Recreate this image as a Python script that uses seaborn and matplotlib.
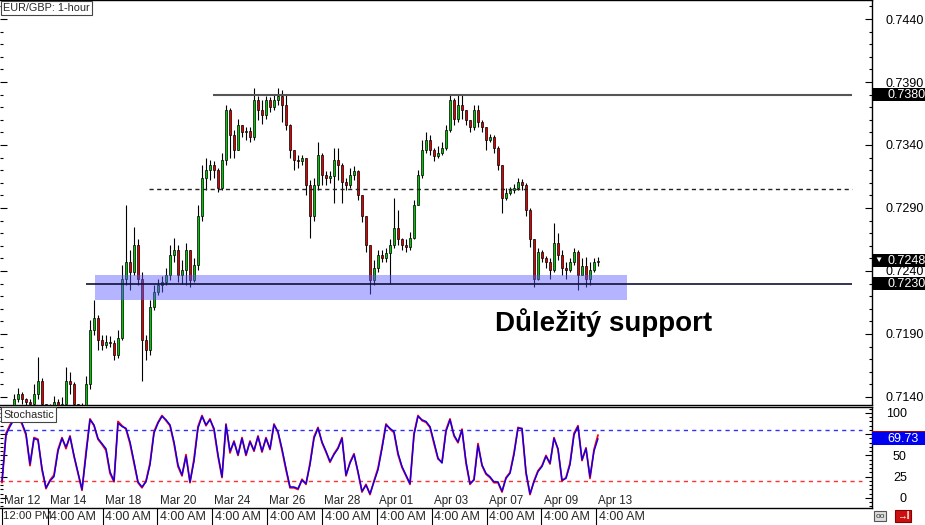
import matplotlib
matplotlib.use('Agg')
import matplotlib.pyplot as plt
import matplotlib.transforms as mtransforms
from matplotlib.patches import Rectangle
from matplotlib.ticker import MultipleLocator, FixedLocator
import seaborn as sns
import numpy as np
import pandas as pd

# EUR/GBP bars (one bar every 3.5 h, first bar Mar 12 12:00 PM)
BAR_HOURS = 3.5
first_open = 0.7124
closes = [
    0.7126, 0.7128, 0.7130, 0.7138, 0.7142, 0.7138, 0.7136, 0.7134, 0.7142, 0.7153,
    0.7134, 0.7128, 0.7130, 0.7136, 0.7131, 0.7134, 0.7153, 0.7150, 0.7134, 0.7128,
    0.7130, 0.7150, 0.7193, 0.7203, 0.7185, 0.7181, 0.7184, 0.7183, 0.7173, 0.7187,
    0.7234, 0.7247, 0.7239, 0.7261, 0.7234, 0.7185, 0.7177, 0.7211, 0.7223, 0.7229,
    0.7231, 0.7237, 0.7253, 0.7257, 0.7237, 0.7241, 0.7257, 0.7233, 0.7245, 0.7284,
    0.7314, 0.7320, 0.7324, 0.7320, 0.7306, 0.7328, 0.7368, 0.7348, 0.7336, 0.7356,
    0.7350, 0.7351, 0.7346, 0.7376, 0.7368, 0.7364, 0.7376, 0.7370, 0.7376, 0.7379,
    0.7372, 0.7356, 0.7336, 0.7328, 0.7327, 0.7330, 0.7308, 0.7284, 0.7308, 0.7332,
    0.7316, 0.7314, 0.7315, 0.7328, 0.7324, 0.7311, 0.7308, 0.7316, 0.7319, 0.7300,
    0.7284, 0.7261, 0.7233, 0.7242, 0.7253, 0.7250, 0.7254, 0.7261, 0.7274, 0.7265,
    0.7261, 0.7259, 0.7266, 0.7292, 0.7316, 0.7336, 0.7344, 0.7336, 0.7331, 0.7334,
    0.7338, 0.7352, 0.7376, 0.7361, 0.7372, 0.7368, 0.7360, 0.7354, 0.7368, 0.7358,
    0.7354, 0.7344, 0.7346, 0.7338, 0.7324, 0.7298, 0.7302, 0.7304, 0.7306, 0.7311,
    0.7308, 0.7288, 0.7265, 0.7234, 0.7255, 0.7250, 0.7247, 0.7241, 0.7262, 0.7253,
    0.7242, 0.7241, 0.7247, 0.7255, 0.7237, 0.7244, 0.7234, 0.7241, 0.7247, 0.7248,
]
highs = [
    0.7130, 0.7131, 0.7133, 0.7142, 0.7147, 0.7144, 0.7139, 0.7138, 0.7150, 0.7172,
    0.7155, 0.7134, 0.7134, 0.7141, 0.7138, 0.7140, 0.7164, 0.7160, 0.7152, 0.7134,
    0.7135, 0.7157, 0.7201, 0.7217, 0.7205, 0.7189, 0.7189, 0.7188, 0.7185, 0.7193,
    0.7245, 0.7292, 0.7257, 0.7275, 0.7265, 0.7239, 0.7189, 0.7217, 0.7229, 0.7234,
    0.7236, 0.7242, 0.7261, 0.7266, 0.7261, 0.7249, 0.7262, 0.7257, 0.7250, 0.7292,
    0.7324, 0.7330, 0.7328, 0.7327, 0.7322, 0.7334, 0.7372, 0.7369, 0.7352, 0.7361,
    0.7356, 0.7354, 0.7354, 0.7385, 0.7379, 0.7376, 0.7379, 0.7378, 0.7380, 0.7385,
    0.7384, 0.7380, 0.7357, 0.7336, 0.7332, 0.7332, 0.7330, 0.7312, 0.7314, 0.7342,
    0.7334, 0.7319, 0.7319, 0.7338, 0.7338, 0.7326, 0.7314, 0.7322, 0.7323, 0.7320,
    0.7300, 0.7284, 0.7261, 0.7249, 0.7257, 0.7257, 0.7258, 0.7265, 0.7298, 0.7288,
    0.7266, 0.7265, 0.7271, 0.7296, 0.7320, 0.7344, 0.7350, 0.7348, 0.7338, 0.7339,
    0.7342, 0.7356, 0.7380, 0.7377, 0.7380, 0.7380, 0.7368, 0.7360, 0.7372, 0.7372,
    0.7360, 0.7354, 0.7349, 0.7348, 0.7339, 0.7324, 0.7306, 0.7307, 0.7309, 0.7314,
    0.7313, 0.7310, 0.7290, 0.7265, 0.7258, 0.7257, 0.7252, 0.7250, 0.7278, 0.7270,
    0.7257, 0.7247, 0.7250, 0.7258, 0.7257, 0.7250, 0.7251, 0.7247, 0.7250, 0.7251,
]
lows = [
    0.7122, 0.7123, 0.7126, 0.7130, 0.7136, 0.7134, 0.7133, 0.7130, 0.7131, 0.7138,
    0.7130, 0.7125, 0.7126, 0.7128, 0.7126, 0.7130, 0.7134, 0.7142, 0.7130, 0.7125,
    0.7126, 0.7130, 0.7146, 0.7189, 0.7177, 0.7177, 0.7179, 0.7180, 0.7169, 0.7171,
    0.7185, 0.7229, 0.7225, 0.7237, 0.7229, 0.7153, 0.7169, 0.7173, 0.7209, 0.7221,
    0.7223, 0.7229, 0.7233, 0.7247, 0.7231, 0.7230, 0.7229, 0.7227, 0.7231, 0.7241,
    0.7280, 0.7304, 0.7312, 0.7314, 0.7303, 0.7304, 0.7324, 0.7330, 0.7330, 0.7336,
    0.7346, 0.7344, 0.7342, 0.7344, 0.7360, 0.7357, 0.7361, 0.7366, 0.7368, 0.7372,
    0.7358, 0.7352, 0.7330, 0.7320, 0.7322, 0.7324, 0.7300, 0.7266, 0.7280, 0.7304,
    0.7308, 0.7308, 0.7310, 0.7294, 0.7312, 0.7294, 0.7304, 0.7306, 0.7312, 0.7296,
    0.7279, 0.7255, 0.7222, 0.7229, 0.7239, 0.7247, 0.7247, 0.7230, 0.7258, 0.7261,
    0.7257, 0.7255, 0.7257, 0.7265, 0.7292, 0.7314, 0.7334, 0.7332, 0.7327, 0.7330,
    0.7332, 0.7336, 0.7350, 0.7356, 0.7358, 0.7361, 0.7356, 0.7350, 0.7352, 0.7354,
    0.7350, 0.7336, 0.7342, 0.7334, 0.7320, 0.7286, 0.7296, 0.7300, 0.7302, 0.7304,
    0.7304, 0.7284, 0.7259, 0.7227, 0.7233, 0.7247, 0.7242, 0.7234, 0.7239, 0.7249,
    0.7237, 0.7234, 0.7239, 0.7245, 0.7225, 0.7237, 0.7227, 0.7229, 0.7239, 0.7244,
]

# Stochastic (%K red, %D blue)
stoch_k = [
    18, 76, 86, 93, 95, 87, 74, 38, 71, 69, 33, 11, 21, 27, 57, 71, 58, 73, 49, 29,
    9, 54, 93, 85, 69, 63, 56, 29, 19, 90, 85, 81, 64, 41, 18, 12, 20, 41, 78, 89,
    97, 91, 85, 64, 37, 26, 51, 18, 46, 84, 97, 85, 93, 80, 49, 24, 87, 53, 67, 50,
    71, 50, 67, 55, 73, 54, 71, 57, 87, 77, 56, 33, 12, 12, 10, 22, 16, 41, 72, 83,
    65, 54, 42, 52, 59, 71, 26, 42, 52, 30, 7, 16, 4, 20, 35, 60, 87, 81, 77, 51,
    36, 26, 16, 76, 97, 91, 89, 83, 64, 46, 42, 80, 93, 73, 65, 81, 41, 16, 22, 64,
    38, 28, 24, 18, 18, 7, 24, 30, 53, 83, 81, 29, 4, 20, 32, 38, 50, 40, 71, 57,
    20, 24, 41, 76, 85, 44, 59, 23, 57, 74,
]
stoch_d = [
    20, 74, 84, 92, 94, 88, 76, 40, 70, 68, 35, 12, 20, 25, 55, 70, 60, 72, 50, 30,
    10, 50, 92, 86, 70, 64, 58, 31, 20, 88, 84, 82, 66, 43, 19, 13, 19, 39, 76, 88,
    96, 92, 86, 66, 39, 27, 49, 19, 43, 82, 96, 86, 92, 82, 51, 25, 86, 55, 66, 51,
    70, 51, 66, 56, 72, 55, 70, 58, 86, 78, 58, 35, 13, 13, 11, 21, 17, 39, 70, 82,
    66, 55, 43, 51, 58, 70, 27, 41, 51, 31, 8, 15, 5, 19, 33, 58, 86, 82, 78, 53,
    37, 27, 17, 74, 96, 92, 90, 84, 66, 47, 41, 78, 92, 74, 66, 80, 43, 17, 21, 62,
    39, 29, 25, 19, 19, 8, 23, 29, 51, 82, 82, 31, 5, 19, 31, 37, 49, 41, 70, 58,
    21, 23, 39, 74, 84, 45, 58, 25, 55, 69.73,
]

date_labels = ['Mar 12', 'Mar 14', 'Mar 18', 'Mar 20', 'Mar 24', 'Mar 26',
               'Mar 28', 'Apr 01', 'Apr 03', 'Apr 07', 'Apr 09', 'Apr 13']
time_labels = ['12:00 PM'] + ['4:00 AM'] * 11
label_hours = [0, 40, 88, 136, 184, 232, 280, 328, 376, 424, 472, 520]

price_ticks = [0.7140, 0.7190, 0.7240, 0.7290, 0.7340, 0.7390, 0.7440]
stoch_ticks = [0, 25, 50, 75, 100]
stoch_tick_labels = ['0', '25', '50', '', '100']   # 75 sits under the current-value box

resistance = 0.7380
support = 0.7230
middle = 0.7305
zone_low, zone_high = 0.7217, 0.7237
last_price = 0.7248
last_stoch = 69.73

# where the drawn objects start/end (hours after first bar)
resistance_start, support_start, middle_start, lines_end = 184.6, 73.5, 128.6, 743.8
zone_start, zone_end = 81.4, 546.9
note_hour, note_price = 431.0, 0.7199

sns.set_style('white')
plt.rcParams['font.family'] = ['Liberation Sans', 'DejaVu Sans']

df = pd.DataFrame({'close': closes, 'high': highs, 'low': lows})
df['open'] = [first_open] + closes[:-1]
df['hour'] = np.arange(len(df)) * BAR_HOURS
df['high'] = df[['high', 'open', 'close']].max(axis=1)
df['low'] = df[['low', 'open', 'close']].min(axis=1)
up = df['close'] >= df['open']

stoch_df = pd.DataFrame({'hour': df['hour'], 'k': stoch_k, 'd': stoch_d})

W, H = 925, 525
fig = plt.figure(figsize=(W / 100, H / 100), dpi=100)
right = 872 / W
ax = fig.add_axes([0, (H - 405) / H, right, 405 / H])
ax2 = fig.add_axes([0, (H - 508) / H, right, 101 / H])
xlim = (-0.5 * BAR_HOURS, 217.5 * BAR_HOURS)

# candles
ax.vlines(df['hour'], df['low'], df['high'], color='black', linewidth=0.8, zorder=2)
ax.bar(df['hour'], df['close'] - df['open'], bottom=df['open'], width=2.6,
       color=np.where(up, '#00c800', '#e00000'), edgecolor='black', linewidth=0.5, zorder=3)

# support zone and levels
ax.add_patch(Rectangle((zone_start, zone_low), zone_end - zone_start, zone_high - zone_low,
                       facecolor='#5a5aff', alpha=0.45, linewidth=0, zorder=4))
ax.hlines(resistance, resistance_start, lines_end, color='#555555', linewidth=1.5, zorder=5)
ax.hlines(support, support_start, lines_end, color='#10103a', linewidth=1.2, zorder=5)
ax.hlines(middle, middle_start, lines_end, color='#222222', linewidth=1.0,
          linestyle=(0, (3, 2.5)), zorder=5)
ax.text(note_hour, note_price, 'Důležitý support', fontsize=20, fontweight='bold',
        ha='left', va='center', color='black', zorder=6)

ax.set_xlim(xlim)
ax.set_ylim(0.71336, 0.74551)
ax.yaxis.tick_right()
ax.yaxis.set_major_locator(FixedLocator(price_ticks))
ax.yaxis.set_minor_locator(MultipleLocator(0.001))
ax.yaxis.set_major_formatter(plt.FormatStrFormatter('%.4f'))
ax.tick_params(axis='y', which='both', left=True, right=True, labelleft=False,
               labelright=True, direction='in', colors='black', labelsize=9, pad=10)
ax.tick_params(axis='y', which='major', length=5, width=0.8)
ax.tick_params(axis='y', which='minor', length=2.5, width=0.8)
ax.tick_params(axis='x', bottom=False, labelbottom=False)
ax.spines['left'].set_visible(False)
for s in ['top', 'right', 'bottom']:
    ax.spines[s].set_color('black')
    ax.spines[s].set_linewidth(1.0)
ax.text(0.004, 0.993, 'EUR/GBP: 1-hour', transform=ax.transAxes, ha='left', va='top',
        fontsize=7.8, bbox=dict(boxstyle='square,pad=0.2', fc='white', ec='#444444', lw=0.8))

# stochastic panel
ax2.axhline(80, xmax=862 / 872, color='#3030ff', linewidth=1.0, linestyle=(0, (3, 3)))
ax2.axhline(20, xmax=862 / 872, color='#ff3030', linewidth=1.0, linestyle=(0, (3, 3)))
sns.lineplot(data=stoch_df, x='hour', y='k', color='#ff0000', linewidth=1.3, ax=ax2)
sns.lineplot(data=stoch_df, x='hour', y='d', color='#0000ff', linewidth=1.0, ax=ax2)
ax2.set_xlabel('')
ax2.set_ylabel('')
ax2.set_xlim(xlim)
ax2.set_ylim(-11.8, 107)
ax2.yaxis.tick_right()
ax2.yaxis.set_major_locator(FixedLocator(stoch_ticks))
ax2.yaxis.set_minor_locator(MultipleLocator(5))
ax2.set_yticklabels(stoch_tick_labels)
ax2.tick_params(axis='y', which='both', left=True, right=True, labelleft=False,
                labelright=True, direction='in', colors='black', labelsize=9, pad=25)
ax2.tick_params(axis='y', which='major', length=5, width=0.8)
ax2.tick_params(axis='y', which='minor', length=2.5, width=0.8)
for lab in ax2.get_yticklabels():
    lab.set_horizontalalignment('right')
ax2.tick_params(axis='x', bottom=False, labelbottom=False)
ax2.spines['left'].set_visible(False)
for s in ['top', 'right', 'bottom']:
    ax2.spines[s].set_color('black')
    ax2.spines[s].set_linewidth(1.0)
ax2.text(0.004, 0.975, 'Stochastic', transform=ax2.transAxes, ha='left', va='top',
         fontsize=7.8, bbox=dict(boxstyle='square,pad=0.2', fc='white', ec='#444444', lw=0.8))

# date / time labels along the bottom
trans2 = mtransforms.blended_transform_factory(ax2.transData, ax2.transAxes)
for i, (h, d, t) in enumerate(zip(label_hours, date_labels, time_labels)):
    ax2.annotate(d, xy=(h, 0), xycoords=trans2, xytext=(1.5, 0.5), textcoords='offset points',
                 ha='left', va='bottom', fontsize=8.4, annotation_clip=False)
    ax2.annotate(t, xy=(h, 0), xycoords=trans2, xytext=(0.5 if i == 0 else 2, -2.5),
                 textcoords='offset points', ha='left', va='top',
                 fontsize=8.2 if i == 0 else 9, annotation_clip=False)
    ax2.plot([h, h], [-0.17, 0], transform=trans2, color='black', linewidth=0.8, clip_on=False)


def value_box(axis, value, text, fc, half, marker=None):
    tr = mtransforms.blended_transform_factory(fig.transFigure, axis.transData)
    axis.add_patch(Rectangle((right, value - half), 1 - right, 2 * half, transform=tr,
                             facecolor=fc, edgecolor='none', clip_on=False, zorder=10))
    axis.text(887 / W, value, text, transform=tr, color='white', fontsize=9,
              ha='left', va='center', zorder=11, clip_on=False)
    if marker:
        axis.text(874 / W, value, marker, transform=tr, color='white', fontsize=6,
                  ha='left', va='center', zorder=11, clip_on=False)


ph = 6.5 * (0.74551 - 0.71336) / 405
value_box(ax, resistance, f'{resistance:.4f}', 'black', ph)
value_box(ax, support, f'{support:.4f}', 'black', ph)
value_box(ax, last_price, f'{last_price:.4f}', 'black', ph, marker='▼')
sh = 6.5 * (107 + 11.8) / 101
tr2 = mtransforms.blended_transform_factory(fig.transFigure, ax2.transData)
ax2.add_patch(Rectangle((right, last_stoch + sh), 1 - right, 1.6, transform=tr2,
                        facecolor='#b00000', edgecolor='none', clip_on=False, zorder=10))
value_box(ax2, last_stoch, f'{last_stoch:.2f}', '#0000f0', sh)

# little toolbar icons bottom right
fig.text(880 / W, 1 - 516 / H, 'oo', fontsize=6, ha='center', va='center', color='#333333',
         bbox=dict(boxstyle='square,pad=0.2', fc='#dddddd', ec='#555555', lw=0.8))
fig.text(903 / W, 1 - 516 / H, '→I', fontsize=7, fontweight='bold', ha='center', va='center',
         color='white', bbox=dict(boxstyle='square,pad=0.15', fc='#cc1010', ec='#880000', lw=0.8))

fig.savefig('out.png', dpi=100)
